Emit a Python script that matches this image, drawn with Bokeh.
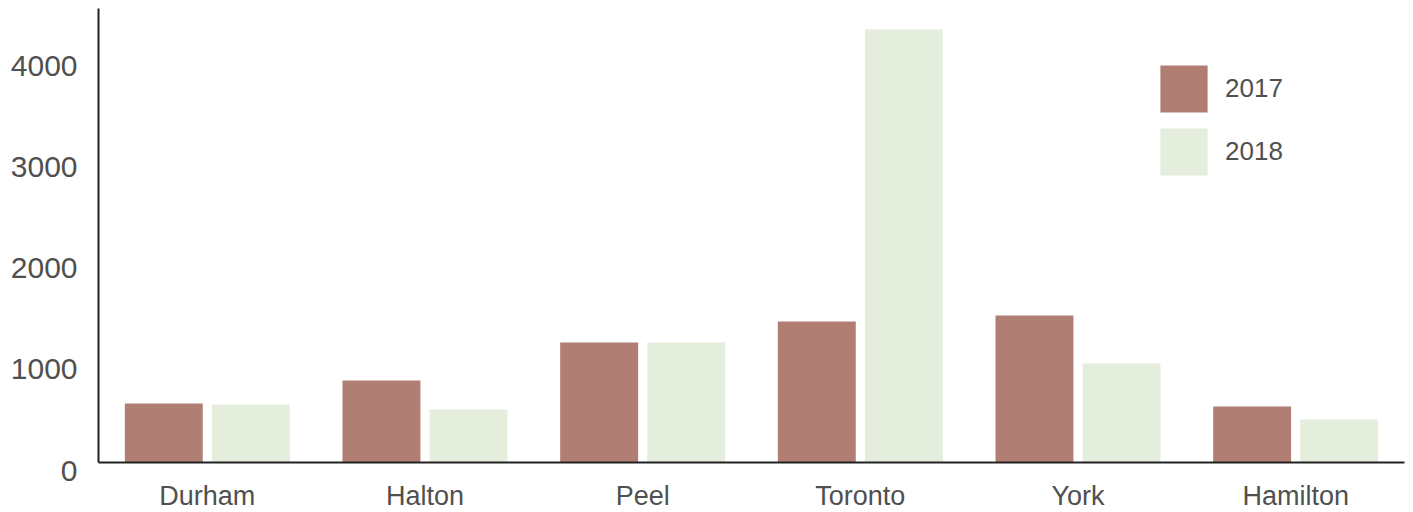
from bokeh.plotting import figure
from bokeh.models import ColumnDataSource, Legend, LegendItem, Range1d
from bokeh.core.properties import value
from bokeh.transform import dodge
from bokeh.embed import file_html
from bokeh.resources import INLINE

regions = ["Durham", "Halton", "Peel", "Toronto", "York", "Hamilton"]
values_2017 = [583, 810, 1185, 1393, 1452, 553]
values_2018 = [573, 523, 1185, 4277, 978, 425]
y_ticks = [0, 1000, 2000, 3000, 4000]
y_tick_labels = ["0", "1000", "2000", "3000", "4000"]

C2017 = "#b07e72"
C2018 = "#e5eedc"
TEXT = "#505050"
AXIS = "#222222"
FONT = "Liberation Sans"

n = len(regions)
Y_TOP = 4484  # top of the value axis

# pixel layout of the plotting area inside the 1413x512 canvas
W, H = 1413, 512
LEFT, RIGHT, TOP, BOTTOM = 98, 1404, 8, 462
gw = (RIGHT - LEFT) / n              # pixels per category
ys = (BOTTOM - TOP) / Y_TOP          # pixels per unit

x_range = Range1d(-0.5 - LEFT / gw, n - 0.5 + (W - RIGHT) / gw)
y_range = Range1d(-(H - BOTTOM) / ys, Y_TOP + TOP / ys)

src = ColumnDataSource(dict(idx=list(range(n)), region=regions,
                            v2017=values_2017, v2018=values_2018))

p = figure(width=W, height=H, output_backend="svg", toolbar_location=None,
           x_range=x_range, y_range=y_range, x_axis_type=None, y_axis_type=None,
           min_border=0)
p.outline_line_color = None
p.grid.visible = False
p.background_fill_color = "white"
p.border_fill_color = "white"

r1 = p.vbar(x=dodge("idx", -0.2), top="v2017", width=0.358, source=src,
            fill_color=C2017, line_color=None)
r2 = p.vbar(x=dodge("idx", 0.2), top="v2018", width=0.358, source=src,
            fill_color=C2018, line_color=None)

# axis lines
p.segment(x0=[-0.5, -0.5], y0=[0, 0], x1=[-0.5, n - 0.5], y1=[Y_TOP, 0],
          line_color=AXIS, line_width=2)

# category labels
p.text(x="idx", y=0, text="region", source=src, y_offset=33,
       text_align="center", text_baseline="middle",
       text_font=value(FONT), text_font_size="27px", text_color=TEXT)

# value labels
ysrc = ColumnDataSource(dict(y=y_ticks, t=y_tick_labels))
p.text(x=-0.5, y="y", text="t", source=ysrc, x_offset=-21, y_offset=8,
       text_align="right", text_baseline="middle",
       text_font=value(FONT), text_font_size="30px", text_color=TEXT)

legend = Legend(items=[LegendItem(label="2017", renderers=[r1]),
                       LegendItem(label="2018", renderers=[r2])],
                location=(1154, 331), orientation="vertical",
                glyph_width=59, glyph_height=59, spacing=4, padding=0, margin=0,
                label_standoff=12, label_text_font=FONT, label_text_font_size="26px",
                label_text_color=TEXT, border_line_color=None, background_fill_alpha=0)
p.add_layout(legend)

open("out.html", "w").write(file_html(p, INLINE))
